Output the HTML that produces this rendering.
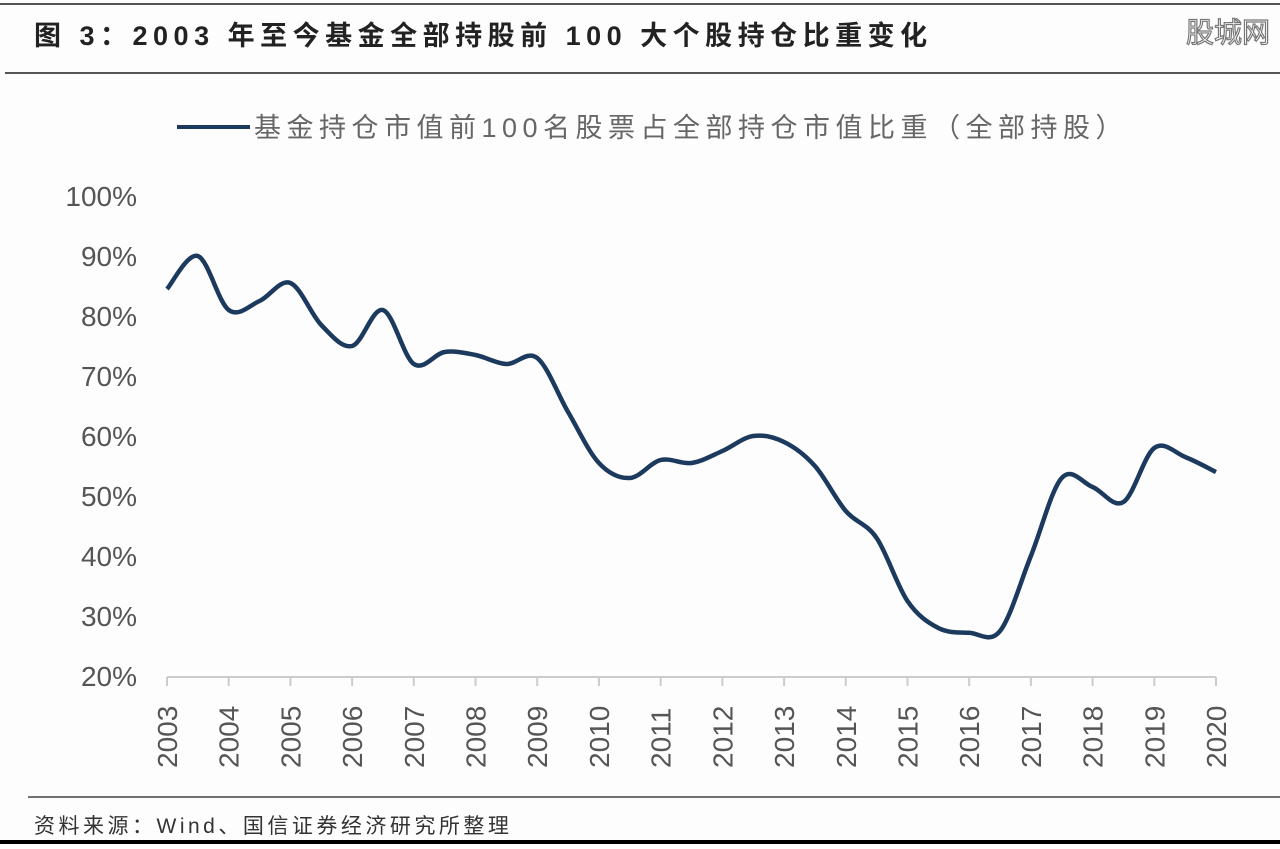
<!DOCTYPE html>
<html><head><meta charset="utf-8"><style>
body{margin:0;background:#fff;width:1280px;height:844px;overflow:hidden;font-family:"Liberation Sans","Noto Sans CJK SC",sans-serif}
</style></head><body>
<svg width="1280" height="844" xmlns="http://www.w3.org/2000/svg">
<rect x="0" y="0" width="1280" height="844" fill="#fdfdfd"/>
<line x1="0" y1="4" x2="1280" y2="4" stroke="#555" stroke-width="2"/>
<text x="34" y="45" font-size="27" font-weight="bold" fill="#222" letter-spacing="5.5" font-family="Liberation Sans,Noto Sans CJK SC,sans-serif">图 3：2003 年至今基金全部持股前 100 大个股持仓比重变化</text>
<text x="1270" y="42" font-size="28" text-anchor="end" fill="#fff" stroke="#777" stroke-width="1.2" font-family="Noto Sans CJK SC,sans-serif">股城网</text>
<line x1="5" y1="73" x2="1280" y2="73" stroke="#555" stroke-width="2"/>
<g>
<line x1="177" y1="127" x2="250" y2="127" stroke="#1c3a5e" stroke-width="4"/>
<text x="254" y="137" font-size="27" fill="#666" letter-spacing="5.5" font-family="Liberation Sans,Noto Sans CJK SC,sans-serif">基金持仓市值前100名股票占全部持仓市值比重（全部持股）</text>
</g>
<g id="yaxis"></g>
<g id="xaxis"></g>
<path id="series" fill="none" stroke="#1c3a5e" stroke-width="4.5" stroke-linejoin="round"/>
<line x1="28" y1="797" x2="1280" y2="797" stroke="#444" stroke-width="1.5"/>
<text x="34" y="833" font-size="21" fill="#333" letter-spacing="3.5" font-family="Liberation Sans,Noto Sans CJK SC,sans-serif">资料来源：Wind、国信证券经济研究所整理</text>
<rect x="0" y="840" width="1280" height="4" fill="#000"/>
</svg>
<script>
const years=[2003,2004,2005,2006,2007,2008,2009,2010,2011,2012,2013,2014,2015,2016,2017,2018,2019,2020];
const yTicks=[20,30,40,50,60,70,80,90,100];
const times=[2003,2003.5,2004,2004.5,2005,2005.5,2006,2006.5,2007,2007.5,2008,2008.5,2009,2009.5,2010,2010.5,2011,2011.5,2012,2012.5,2013,2013.5,2014,2014.5,2015,2015.5,2016,2016.5,2017,2017.5,2018,2018.5,2019,2019.5,2020];
const values=[84.5,90,81,82.5,85.5,78.5,75,81,72,74,73.5,72,73,64,55.5,53,56,55.5,57.5,60,59,55,47.5,43,32.5,28,27.2,27.5,40,53,51.5,49,58,56.5,54];
const NS='http://www.w3.org/2000/svg';
const X=t=>167+(t-2003)*(1216-167)/17;
const Y=v=>676-(v-20)*6;
const ya=document.getElementById('yaxis'),xa=document.getElementById('xaxis');
yTicks.forEach(v=>{const t=document.createElementNS(NS,'text');


t.setAttribute('x',137);t.setAttribute('y',Y(v)+10);t.setAttribute('text-anchor','end');t.setAttribute('font-size','28');t.setAttribute('fill','#555');t.textContent=v+'%';ya.appendChild(t);});
const ax=document.createElementNS(NS,'line');


ax.setAttribute('x1',X(2003));ax.setAttribute('x2',X(2020));ax.setAttribute('y1',677);ax.setAttribute('y2',677);ax.setAttribute('stroke','#ccc');ax.setAttribute('stroke-width','2');xa.appendChild(ax);
years.forEach(y=>{const l=document.createElementNS(NS,'line');


l.setAttribute('x1',X(y));l.setAttribute('x2',X(y));l.setAttribute('y1',677);l.setAttribute('y2',686);l.setAttribute('stroke','#ccc');l.setAttribute('stroke-width','2');xa.appendChild(l);
const t=document.createElementNS(NS,'text');


t.setAttribute('transform','translate('+(X(y)+10)+',768) rotate(-90)');t.setAttribute('font-size','28');t.setAttribute('fill','#555');t.textContent=y;xa.appendChild(t);});
const P=times.map((t,i)=>[X(t),Y(values[i])]);
let d='M'+P[0][0]+','+P[0][1];
for(let i=0;i<P.length-1;i++){const p0=P[Math.max(0,i-1)],p1=P[i],p2=P[i+1],p3=P[Math.min(P.length-1,i+2)];
d+=' C'+(p1[0]+(p2[0]-p0[0])/6)+','+(p1[1]+(p2[1]-p0[1])/6)+' '+(p2[0]-(p3[0]-p1[0])/6)+','+(p2[1]-(p3[1]-p1[1])/6)+' '+p2[0]+','+p2[1];}
document.getElementById('series').setAttribute('d',d);
</script>
</body></html>
